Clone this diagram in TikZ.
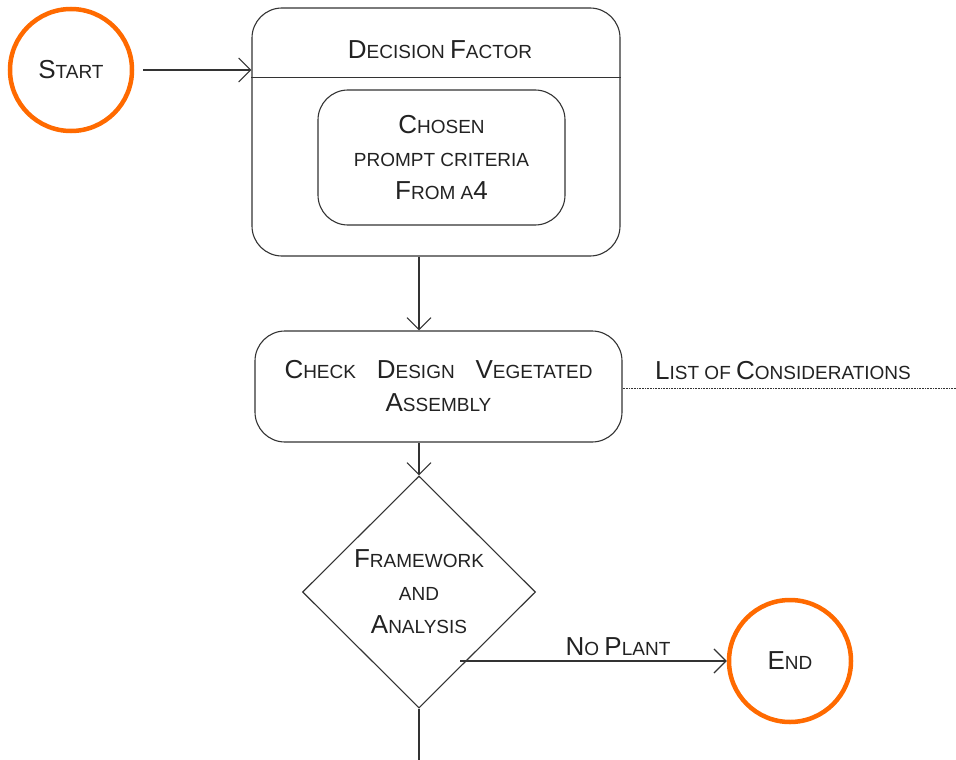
\documentclass[tikz,border=0pt]{standalone}
\usepackage{fontspec}
\setmainfont{Liberation Sans}
\usetikzlibrary{shapes.geometric,arrows.meta,calc}

% hand-made small capitals: full-size initials, reduced-size capitals elsewhere
\newcommand\bigc[1]{{\fontsize{26pt}{33pt}\selectfont #1}}
\newcommand\smallfont{\fontsize{19pt}{33pt}\selectfont}

\definecolor{ink}{HTML}{222222}
\definecolor{edge}{HTML}{333333}
\definecolor{flame}{HTML}{FF6A00}

\tikzset{
  base/.style={font=\smallfont, text=ink},
  terminal/.style={base, circle, draw=flame, line width=4.5pt, minimum size=122pt, inner sep=0pt},
  roundbox/.style={base, draw=edge, line width=1.1pt, rounded corners=30pt, inner sep=0pt, align=center},
  decision/.style={base, diamond, draw=edge, line width=1.1pt, aspect=1, minimum width=233pt, minimum height=232pt, inner sep=0pt, align=center},
  link/.style={draw=edge, line width=1.1pt},
  arr/.style={link, -{Straight Barb[length=12pt,width=24pt,line width=1.1pt]}},
}

\begin{document}
\begin{tikzpicture}[x=1pt, y=-1pt]
\useasboundingbox (0,0) rectangle (956,760);

% terminals
\node[terminal] (start) at (71,70) {\bigc{S}TART};
\node[terminal] (end) at (790,661) {\bigc{E}ND};

% decision factor container with its title band
\node[roundbox, minimum width=368pt, minimum height=248pt] (df) at (436,132) {};
\node[base] (title) at (440,50) {\bigc{D}ECISION \bigc{F}ACTOR};
\draw[link] ($(df.north west)+(0,70)$) -- ($(df.north east)+(0,70)$);
\node[roundbox, minimum width=247pt, minimum height=135pt] (crit) at (441.5,157.5)
  {\bigc{C}HOSEN\\PROMPT CRITERIA\\\bigc{F}ROM A\bigc{4}};

% check step
\node[roundbox, minimum width=367pt, minimum height=111pt] (chk) at (438.5,386.5)
  {\makebox[308pt][s]{\bigc{C}HECK\hfill\bigc{D}ESIGN\hfill\bigc{V}EGETATED}\\\bigc{A}SSEMBLY};

% annotation on the check step
\node[base, anchor=base west, inner sep=0pt] (note) at (655,379) {\bigc{L}IST OF \bigc{C}ONSIDERATIONS};
\coordinate (noteend) at (956,388);
\draw[edge, line width=0.6pt, densely dotted] (chk.east |- noteend) -- (noteend);

% decision diamond
\node[decision] (dia) at (419,592) {\bigc{F}RAMEWORK\\AND\\\bigc{A}NALYSIS};

% connectors
\draw[arr, shorten <=9pt] (start) -- (df.west |- start);
\draw[arr] (dia.north |- df.south) -- (dia.north |- chk.north);
\draw[arr] (dia.north |- chk.south) -- (dia.north);
\coordinate (out) at (419,760);
\draw[link] (dia.south) -- (out);
\coordinate (branch) at (460,661);
\draw[arr] (branch) -- (end.west);
\node[base, anchor=base, inner sep=0pt] (nolabel) at (618,655) {\bigc{N}O \bigc{P}LANT};
\end{tikzpicture}
\end{document}
